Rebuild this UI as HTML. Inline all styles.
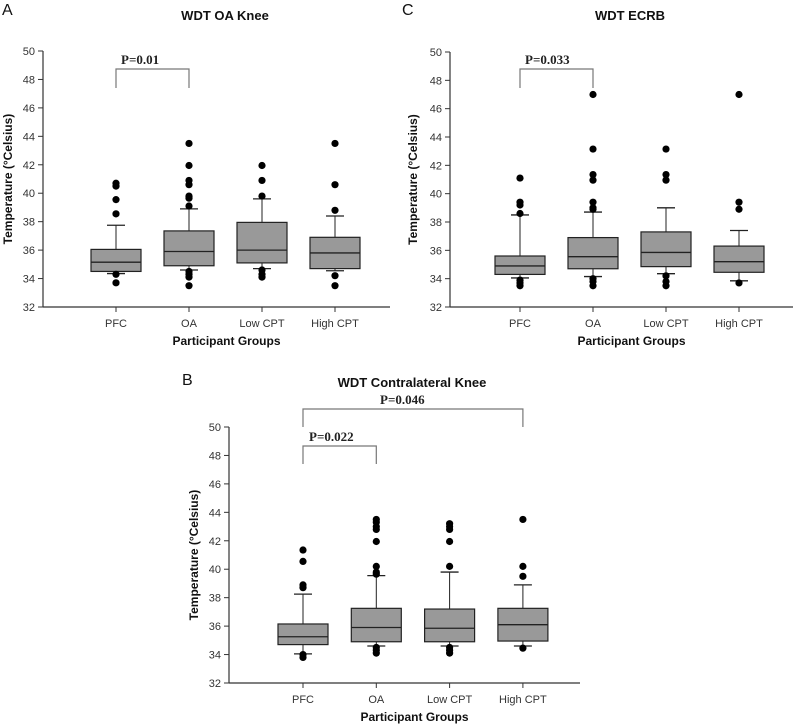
<!DOCTYPE html>
<html><head><meta charset="utf-8"><style>
html,body{margin:0;padding:0;background:#fff;}
svg{display:block;font-family:"Liberation Sans",Arial,sans-serif;}
</style></head><body>
<svg id="fig" width="800" height="727" viewBox="0 0 800 727"></svg>
<script>
const categories = ["PFC","OA","Low CPT","High CPT"];
const yTicks = [32,34,36,38,40,42,44,46,48,50];
// [lowCap, q1, median, q3, upperCap]
const boxesA = [[34.35,34.5,35.15,36.05,37.75],[34.6,34.9,35.9,37.35,38.9],[34.7,35.1,36.0,37.95,39.6],[34.55,34.7,35.8,36.9,38.4]];
const outliersA = [[40.7,40.5,39.55,38.55,34.3,33.7],[43.5,41.95,40.9,40.6,39.8,39.65,39.1,34.5,34.3,34.1,33.5],[41.95,40.9,39.8,34.6,34.3,34.1],[43.5,40.6,38.8,34.2,33.5]];
const boxesC = [[34.05,34.3,34.9,35.6,38.5],[34.15,34.7,35.55,36.9,38.7],[34.35,34.85,35.85,37.3,39.0],[33.85,34.45,35.2,36.3,37.4]];
const outliersC = [[41.1,39.4,39.2,38.6,33.9,33.7,33.5],[47.0,43.15,41.35,40.95,39.4,39.0,38.9,34.0,33.8,33.5],[43.15,41.35,40.95,34.2,33.8,33.5],[47.0,39.4,38.9,33.7]];
const boxesB = [[34.05,34.7,35.25,36.15,38.25],[34.6,34.9,35.9,37.25,39.55],[34.6,34.9,35.85,37.2,39.8],[34.6,34.95,36.1,37.25,38.9]];
const outliersB = [[41.35,40.55,38.9,38.7,34.0,33.8],[43.5,43.3,43.0,42.8,41.95,40.2,39.8,39.65,34.5,34.3,34.1],[43.2,43.0,42.8,41.95,40.2,34.5,34.3,34.1],[43.5,40.2,39.5,34.45]];

const NS="http://www.w3.org/2000/svg";
const svg=document.getElementById('fig');
function mk(tag,attrs,parent,text){const e=document.createElementNS(NS,tag);for(const k in attrs)e.setAttribute(k,attrs[k]);if(text!==undefined)e.textContent=text;(parent||svg).appendChild(e);return e;}

function panel(o){
  const g=mk('g',{});
  
  
  const y=v=>o.y50+(50-v)*(o.y32-o.y50)/18;
  const x=i=>o.cx0+i*o.step;
  let t=mk('text',{x:o.lx,y:o.ly,'font-size':16,fill:'#111'},g,o.letter);
  
  t=mk('text',{x:o.tx,y:o.ty,'font-size':13,'font-weight':'bold','text-anchor':'middle',fill:'#111'},g,o.title);
  
  let a=mk('line',{x1:o.ax,y1:y(50),x2:o.ax,y2:y(32),stroke:'#333','stroke-width':1.2},g);
  
  a=mk('line',{x1:o.ax,y1:y(32),x2:o.axEnd,y2:y(32),stroke:'#333','stroke-width':1.2},g);
  
  yTicks.forEach(v=>{
    mk('line',{x1:o.ax-5,y1:y(v),x2:o.ax,y2:y(v),stroke:'#333'},g);
    const l=mk('text',{x:o.ax-8,y:y(v)+4,'font-size':11,'text-anchor':'end',fill:'#333'},g,v);
    
  });
  categories.forEach((c,i)=>{
    mk('line',{x1:x(i),y1:y(32),x2:x(i),y2:y(32)+5,stroke:'#333'},g);
    const l=mk('text',{x:x(i),y:y(32)+20,'font-size':11,'text-anchor':'middle',fill:'#333'},g,c);
    
  });
  const yc=(y(50)+y(32))/2;
  t=mk('text',{x:o.ytx,y:yc,'font-size':12,'font-weight':'bold','text-anchor':'middle',fill:'#111',transform:`rotate(-90 ${o.ytx} ${yc})`},g,'Temperature (°Celsius)');
  
  t=mk('text',{x:(o.ax+o.axEnd)/2+10,y:y(32)+38,'font-size':12,'font-weight':'bold','text-anchor':'middle',fill:'#111'},g,'Participant Groups');
  
  const hw=25;
  o.boxes.forEach((b,i)=>{
    const bg=mk('g',{},g);
    
    
    const cx=x(i);
    mk('line',{x1:cx,y1:y(b[4]),x2:cx,y2:y(b[3]),stroke:'#222'},bg);
    mk('line',{x1:cx,y1:y(b[1]),x2:cx,y2:y(b[0]),stroke:'#222'},bg);
    mk('line',{x1:cx-9,y1:y(b[4]),x2:cx+9,y2:y(b[4]),stroke:'#222','stroke-width':1.3},bg);
    mk('line',{x1:cx-9,y1:y(b[0]),x2:cx+9,y2:y(b[0]),stroke:'#222','stroke-width':1.3},bg);
    mk('rect',{x:cx-hw,y:y(b[3]),width:2*hw,height:y(b[1])-y(b[3]),fill:'#999',stroke:'#222','stroke-width':1.2},bg);
    mk('line',{x1:cx-hw,y1:y(b[2]),x2:cx+hw,y2:y(b[2]),stroke:'#222','stroke-width':1.3},bg);
    o.outliers[i].forEach(v=>{
      const d=mk('circle',{cx:cx,cy:y(v),r:3.6,fill:'#000'},bg);
      
    });
  });
  o.brackets.forEach(br=>{
    const bg=mk('g',{},g);
    
    
    const x1=x(br.i),x2=x(br.j);
    mk('path',{d:`M${x1} ${br.bot}V${br.top}H${x2}V${br.bot}`,fill:'none',stroke:'#777','stroke-width':1.2},bg);
    mk('text',{x:br.tx,y:br.top-5,'font-size':13,'font-weight':'bold','font-family':'"Liberation Serif",serif',fill:'#222'},bg,br.label);
  });
}

panel({name:'panel-a-oa-knee',letter:'A',lx:2,ly:15,title:'WDT OA Knee',tx:225,ty:20,ax:43,axEnd:390,y50:51,y32:307,cx0:116,step:73,ytx:12,
  boxes:boxesA,outliers:outliersA,brackets:[{i:0,j:1,top:69,bot:88,label:'P=0.01',tx:121}]});
panel({name:'panel-c-ecrb',letter:'C',lx:402,ly:15,title:'WDT ECRB',tx:630,ty:20,ax:450,axEnd:793,y50:52,y32:307,cx0:520,step:73,ytx:417,
  boxes:boxesC,outliers:outliersC,brackets:[{i:0,j:1,top:69,bot:88,label:'P=0.033',tx:525}]});
panel({name:'panel-b-contralateral-knee',letter:'B',lx:182,ly:385,title:'WDT Contralateral Knee',tx:412,ty:387,ax:229,axEnd:580,y50:427,y32:683,cx0:303,step:73.3,ytx:198,
  boxes:boxesB,outliers:outliersB,brackets:[{i:0,j:3,top:409,bot:427,label:'P=0.046',tx:380},{i:0,j:1,top:446,bot:464,label:'P=0.022',tx:309}]});
</script>
</body></html>
